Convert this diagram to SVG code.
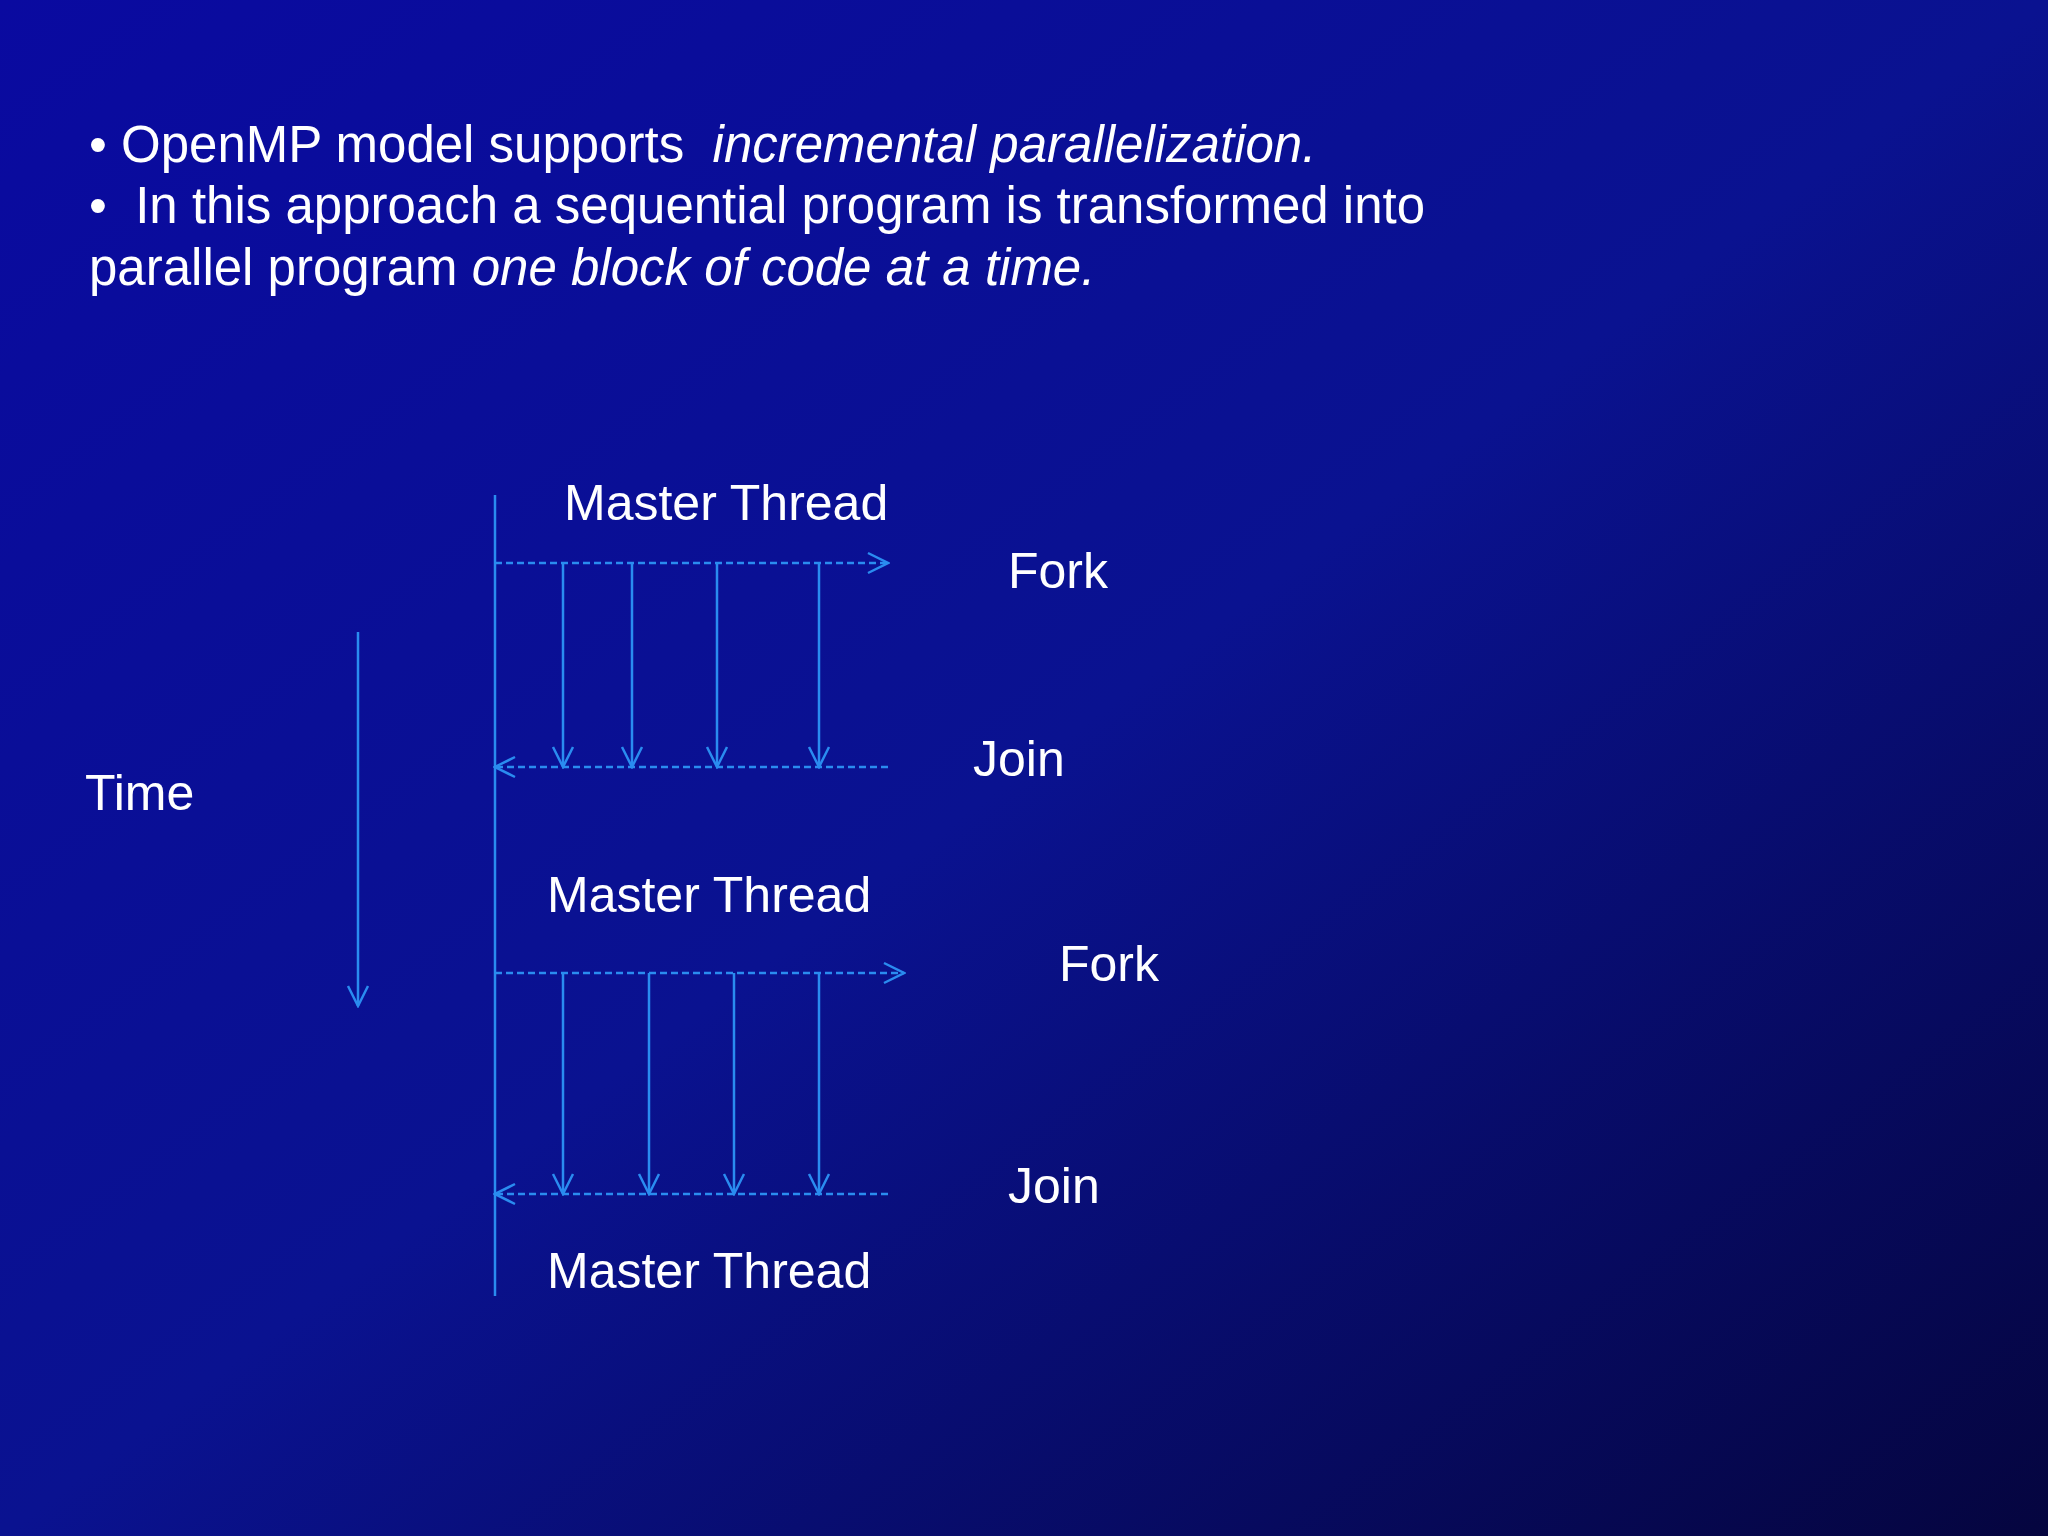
<svg xmlns="http://www.w3.org/2000/svg" width="2048" height="1536" viewBox="0 0 2048 1536">
<defs>
<linearGradient id="bg" x1="0" y1="0" x2="1" y2="1">
<stop offset="0" stop-color="#0a0aa0"/><stop offset="0.5" stop-color="#0a1290"/><stop offset="1" stop-color="#05053f"/>
</linearGradient>
<marker id="ah" viewBox="0 0 24 24" refX="22" refY="12" markerWidth="24" markerHeight="24" markerUnits="userSpaceOnUse" orient="auto">
<path d="M2,2 L22,12 L2,22" fill="none" stroke="#2a8cf0" stroke-width="2.5"/>
</marker>
<style>
text{font-family:"Liberation Sans",Arial,sans-serif;fill:#fff;white-space:pre}
.h{font-size:51px}.l{font-size:50px}
.s{stroke:#2a8cf0;stroke-width:2.5;fill:none}
.d{stroke-dasharray:7 4}
</style>
</defs>
<rect width="2048" height="1536" fill="url(#bg)"/>
<g id="header" xml:space="preserve">
<text class="h" x="89" y="162">• OpenMP model supports  <tspan font-style="italic">incremental parallelization.</tspan></text>
<text class="h" x="89" y="223">•  In this approach a sequential program is transformed into</text>
<text class="h" x="89" y="285">parallel program <tspan font-style="italic">one block of code at a time.</tspan></text>
</g>
<g id="connectors">
<line class="s" x1="495" y1="495" x2="495" y2="1296"/>
<line class="s" x1="358" y1="632" x2="358" y2="1006" marker-end="url(#ah)"/>
<line class="s d" x1="495" y1="563" x2="888" y2="563" marker-end="url(#ah)"/>
<line class="s" x1="563" y1="563" x2="563" y2="767" marker-end="url(#ah)"/>
<line class="s" x1="632" y1="563" x2="632" y2="767" marker-end="url(#ah)"/>
<line class="s" x1="717" y1="563" x2="717" y2="767" marker-end="url(#ah)"/>
<line class="s" x1="819" y1="563" x2="819" y2="767" marker-end="url(#ah)"/>
<line class="s d" x1="888" y1="767" x2="495" y2="767" marker-end="url(#ah)"/>
<line class="s d" x1="495" y1="973" x2="904" y2="973" marker-end="url(#ah)"/>
<line class="s" x1="563" y1="973" x2="563" y2="1194" marker-end="url(#ah)"/>
<line class="s" x1="649" y1="973" x2="649" y2="1194" marker-end="url(#ah)"/>
<line class="s" x1="734" y1="973" x2="734" y2="1194" marker-end="url(#ah)"/>
<line class="s" x1="819" y1="973" x2="819" y2="1194" marker-end="url(#ah)"/>
<line class="s d" x1="888" y1="1194" x2="495" y2="1194" marker-end="url(#ah)"/>
</g>
<g id="master1"><text class="l" x="564" y="520">Master Thread</text></g>
<g id="fork1"><text class="l" x="1008" y="588">Fork</text></g>
<g id="join1"><text class="l" x="973" y="776">Join</text></g>
<g id="time"><text class="l" x="85" y="810">Time</text></g>
<g id="master2"><text class="l" x="547" y="912">Master Thread</text></g>
<g id="fork2"><text class="l" x="1059" y="981">Fork</text></g>
<g id="join2"><text class="l" x="1008" y="1203">Join</text></g>
<g id="master3"><text class="l" x="547" y="1288">Master Thread</text></g>
</svg>
